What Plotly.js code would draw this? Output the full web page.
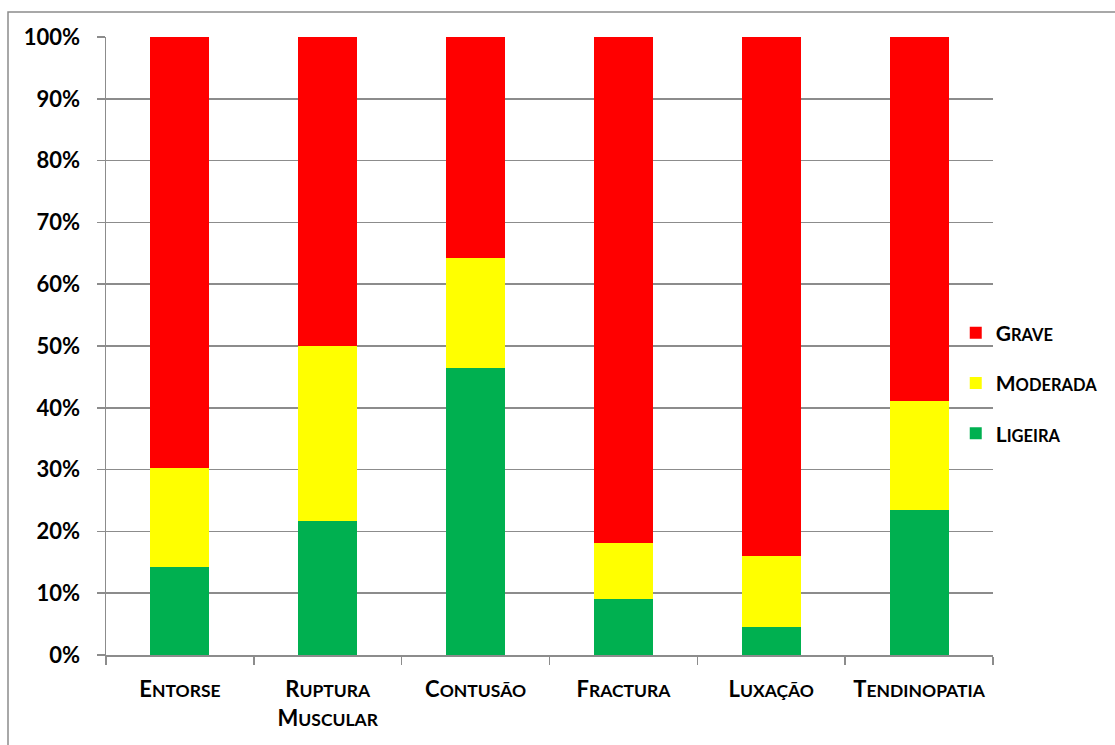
<!DOCTYPE html>
<html>
<head>
<meta charset="utf-8">
<script src="https://cdn.plot.ly/plotly-3.0.1.min.js"></script>
<style>
  html, body { margin: 0; padding: 0; background: #fff; }
  #chart { width: 1115px; height: 745px; }
</style>
</head>
<body>
<div id="chart"></div>
<script>
// Injury types and share of each severity level (percent of cases)
const categories = ['Entorse', 'Ruptura Muscular', 'Contusão', 'Fractura', 'Luxação', 'Tendinopatia'];
const ligeira  = [14.3, 21.7, 46.4,  9.1,  4.5, 23.5];
const moderada = [15.9, 28.3, 17.9,  9.1, 11.5, 17.6];
const grave    = [69.8, 50.0, 35.7, 81.8, 84.0, 58.9];
const seriesNames = ['Ligeira', 'Moderada', 'Grave'];
const seriesColors = ['#00B050', '#FFFF00', '#FF0000'];

const FONT = 'Lato, "Open Sans", sans-serif';

// Small-caps rendering: first letter of each word large, the rest smaller capitals
function smallCaps(label, small) {
  return label.split(' ').map(w =>
    w.charAt(0).toUpperCase() +
    '<span style="font-size:' + small + 'px">' + w.slice(1).toUpperCase() + '</span>'
  ).join('<br>');
}

const seriesValues = [ligeira, moderada, grave];
const traces = seriesNames.map((name, i) => ({
  type: 'bar',
  x: categories,
  y: seriesValues[i],
  name: smallCaps(name, 16.5),
  legendgroup: name,
  legendrank: 3 - i,
  marker: { color: seriesColors[i], line: { width: 0 } },
  hoverinfo: 'x+y'
}));

const axisGrey = '#8c8c8c';

const layout = {
  width: 1115,
  height: 745,
  paper_bgcolor: '#ffffff',
  plot_bgcolor: '#ffffff',
  margin: { l: 106, r: 122, t: 37, b: 90 },
  barmode: 'stack',
  bargap: 0.6,
  font: { family: FONT, color: '#000', size: 21 },
  xaxis: {
    type: 'category',
    tickvals: categories,
    ticktext: categories.map(c => smallCaps(c, 17.5)),
    tickfont: { family: FONT, size: 22, color: '#000', weight: 'bold' },
    tickson: 'boundaries',
    ticks: 'outside',
    ticklen: 8,
    tickwidth: 1.5,
    tickcolor: axisGrey,
    ticklabelstandoff: 14,
    showline: true,
    linecolor: axisGrey,
    linewidth: 1.5,
    showgrid: false,
    zeroline: false,
    fixedrange: true
  },
  yaxis: {
    range: [0, 100],
    dtick: 10,
    ticksuffix: '%',
    tickfont: { family: FONT, size: 22, color: '#000', weight: 'bold' },
    ticks: 'outside',
    ticklen: 8,
    tickwidth: 1.5,
    tickcolor: axisGrey,
    ticklabelstandoff: 12,
    showline: true,
    linecolor: axisGrey,
    linewidth: 1.5,
    showgrid: true,
    gridcolor: axisGrey,
    gridwidth: 1.5,
    zeroline: false,
    fixedrange: true
  },
  legend: {
    x: 0.958,
    xanchor: 'left',
    y: 0.44,
    yanchor: 'middle',
    traceorder: 'grouped',
    tracegroupgap: 20,
    font: { family: FONT, size: 21, color: '#000', weight: 'bold' },
    bgcolor: 'rgba(0,0,0,0)',
    borderwidth: 0,
    itemclick: false,
    itemdoubleclick: false
  },
  shapes: [{
    // chart-area frame
    type: 'rect',
    xref: 'paper', yref: 'paper',
    x0: (8 - 106) / 887, x1: 1.5,
    y0: -0.5, y1: 1 + (37 - 12) / 618,
    line: { color: '#8c8c8c', width: 1.5 },
    fillcolor: 'rgba(0,0,0,0)',
    layer: 'below'
  }],
  showlegend: true
};

Plotly.newPlot('chart', traces, layout, { displayModeBar: false, staticPlot: true });
</script>
</body>
</html>
